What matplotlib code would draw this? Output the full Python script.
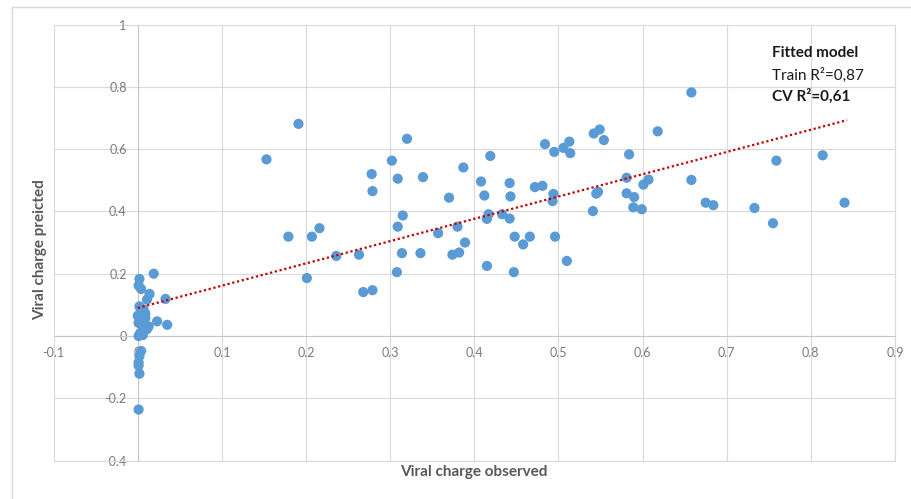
import matplotlib
matplotlib.use('Agg')
import matplotlib.pyplot as plt
from matplotlib.lines import Line2D
import numpy as np

# ---- data ----
observed = [
    # cluster near zero
    0.019, 0.002, 0.001, 0.004, 0.014, 0.011, 0.033, 0.002, 0.007, 0.003,
    0.009, 0.000, 0.009, 0.005, 0.001, 0.013, 0.007, 0.011, 0.003, 0.005,
    0.001, 0.006, 0.023, 0.035,
    0.004, 0.002, 0.001, 0.001, 0.002, 0.001,
    # main
    0.191, 0.153, 0.320, 0.302, 0.278, 0.309, 0.339, 0.279, 0.370, 0.387,
    0.419, 0.484, 0.408, 0.412, 0.442, 0.443, 0.472, 0.481, 0.315, 0.309,
    0.179, 0.207, 0.216, 0.236, 0.263, 0.314, 0.336, 0.357, 0.380, 0.389,
    0.374, 0.382, 0.415, 0.417, 0.433, 0.442, 0.448, 0.458, 0.466, 0.415,
    0.447, 0.308, 0.201, 0.268, 0.279,
    0.658, 0.618, 0.542, 0.549, 0.554, 0.513, 0.506, 0.495, 0.514, 0.584,
    0.759, 0.814, 0.494, 0.493, 0.581, 0.607, 0.601, 0.545, 0.547, 0.581,
    0.590, 0.658, 0.541, 0.589, 0.599, 0.675, 0.684, 0.733, 0.840, 0.755,
    0.496, 0.510,
]
predicted = [
    0.200, 0.183, 0.162, 0.151, 0.135, 0.117, 0.119, 0.095, 0.085, 0.074,
    0.072, 0.065, 0.058, 0.050, 0.042, 0.031, 0.026, 0.022, 0.010, 0.011,
    0.000, 0.003, 0.047, 0.036,
    -0.048, -0.065, -0.085, -0.095, -0.121, -0.236,
    0.681, 0.567, 0.633, 0.563, 0.520, 0.505, 0.510, 0.465, 0.444, 0.541,
    0.578, 0.616, 0.496, 0.451, 0.491, 0.448, 0.478, 0.482, 0.387, 0.351,
    0.319, 0.319, 0.346, 0.257, 0.261, 0.266, 0.266, 0.330, 0.351, 0.300,
    0.261, 0.268, 0.376, 0.391, 0.391, 0.377, 0.319, 0.294, 0.319, 0.225,
    0.205, 0.205, 0.186, 0.141, 0.147,
    0.782, 0.657, 0.650, 0.663, 0.629, 0.624, 0.604, 0.591, 0.587, 0.583,
    0.563, 0.580, 0.456, 0.433, 0.508, 0.502, 0.486, 0.457, 0.463, 0.458,
    0.446, 0.501, 0.401, 0.413, 0.407, 0.428, 0.420, 0.411, 0.428, 0.362,
    0.319, 0.241,
]
trend_x = [0.0, 0.843]
trend_y = [0.090, 0.693]

x_ticks = [-0.1, 0, 0.1, 0.2, 0.3, 0.4, 0.5, 0.6, 0.7, 0.8, 0.9]
x_tick_labels = ['-0.1', '0', '0.1', '0.2', '0.3', '0.4', '0.5', '0.6', '0.7', '0.8', '0.9']
y_ticks = [-0.4, -0.2, 0, 0.2, 0.4, 0.6, 0.8, 1]
y_tick_labels = ['-0.4', '-0.2', '0', '0.2', '0.4', '0.6', '0.8', '1']

x_title = 'Viral charge observed'
y_title = 'Viral charge preicted'
annot_lines = ['Fitted model', 'Train R\u00b2=0,87', 'CV R\u00b2=0,61']

# ---- figure ----
plt.rcParams['font.family'] = ['Lato', 'DejaVu Sans']
W, H = 912, 499
fig = plt.figure(figsize=(W / 100, H / 100), dpi=100)

L, R = 53.6, 895.0
T, B = 24.5, 460.6
ax = fig.add_axes([L / W, 1 - B / H, (R - L) / W, (B - T) / H])
ax.set_xlim(-0.1, 0.9)
ax.set_ylim(-0.4, 1.0)

grid_c = '#d9d9d9'
ax.set_xticks(x_ticks)
ax.set_xticklabels(x_tick_labels)
ax.set_yticks(y_ticks)
ax.set_yticklabels(y_tick_labels)
ax.grid(True, color=grid_c, linewidth=0.8, zorder=0)
ax.set_axisbelow(True)

for s in ['top', 'right']:
    ax.spines[s].set_visible(False)
ax.spines['left'].set_position(('data', 0))
ax.spines['bottom'].set_position(('data', 0))
ax.spines['left'].set_color('#c8c8c8')
ax.spines['bottom'].set_color('#c8c8c8')
ax.spines['left'].set_linewidth(0.8)
ax.spines['bottom'].set_linewidth(0.8)
ax.tick_params(axis='both', length=0, labelsize=9, labelcolor='#7a7a7a')
ax.tick_params(axis='x', pad=8)
ax.tick_params(axis='y', pad=8)

ax.scatter(observed, predicted, s=54, color='#5b9bd5', edgecolors='none', zorder=3)
ax.plot(trend_x, trend_y, color='#c00000', linewidth=1.6,
        linestyle=(0, (1, 1.2)), zorder=4)

# plot-area frame (right/bottom edges)
ax.plot([0.9, 0.9], [-0.4, 1.0], color=grid_c, lw=0.8, clip_on=False, zorder=1)
ax.plot([-0.1, 0.9], [-0.4, -0.4], color=grid_c, lw=0.8, clip_on=False, zorder=1)

# axis titles
fig.text(474 / W, 1 - 472 / H, x_title, ha='center', va='center',
         fontsize=11, fontweight='bold', color='#595959')
fig.text(40 / W, 1 - 250 / H, y_title, ha='center', va='center', rotation=90,
         fontsize=11, fontweight='bold', color='#595959')

# annotation
weights = ['bold', 'normal', 'bold']
ys = [53.3, 75.0, 96.0]
for txt, wgt, yy in zip(annot_lines, weights, ys):
    fig.text(772 / W, 1 - yy / H, txt, ha='left', va='center',
             fontsize=11, fontweight=wgt, color='#1a1a1a')

# outer chart border
fig.add_artist(Line2D([12 / W, 12 / W], [0, 1 - 7 / H], color='#d9d9d9', lw=1,
                      transform=fig.transFigure))
fig.add_artist(Line2D([12 / W, 1], [1 - 7 / H, 1 - 7 / H], color='#d9d9d9', lw=1,
                      transform=fig.transFigure))

fig.savefig('out.png', dpi=100)
